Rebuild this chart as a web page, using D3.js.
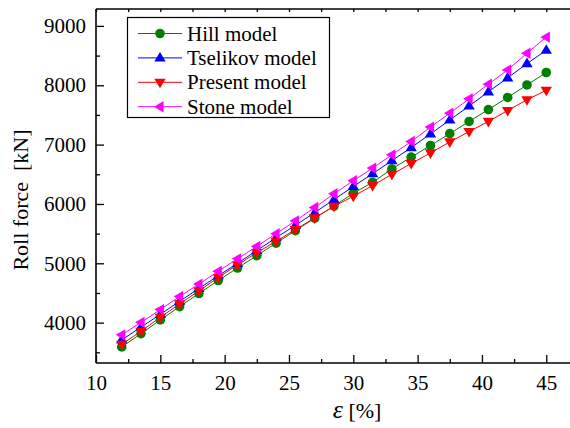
<!DOCTYPE html>
<html>
<head>
<meta charset="utf-8">
<script src="https://cdn.jsdelivr.net/npm/d3@7"></script>
<style>
  html, body { margin: 0; padding: 0; background: #fff; }
  svg { display: block; }
</style>
</head>
<body>
<svg id="chart" width="570" height="428"></svg>
<script>
// Reduction in percent
const strain = [12, 13.5, 15, 16.5, 18, 19.5, 21, 22.5, 24, 25.5, 27, 28.5, 30, 31.5, 33, 34.5, 36, 37.5, 39, 40.5, 42, 43.5, 45];

// Roll force in kN for each model
const hill = [3590, 3815, 4045, 4270, 4490, 4710, 4920, 5130, 5340, 5550, 5760, 5965, 6180, 6365, 6590, 6790, 6985, 7185, 7390, 7590, 7795, 8005, 8215];
const tselikov = [3710, 3925, 4140, 4360, 4575, 4790, 5000, 5215, 5430, 5640, 5855, 6075, 6295, 6510, 6730, 6950, 7180, 7415, 7650, 7890, 8125, 8365, 8590];
const present = [3635, 3855, 4090, 4315, 4535, 4760, 4975, 5180, 5370, 5570, 5765, 5960, 6130, 6310, 6500, 6680, 6860, 7045, 7220, 7390, 7575, 7755, 7915];
const stone = [3795, 4005, 4220, 4440, 4650, 4865, 5075, 5285, 5500, 5715, 5940, 6172, 6391, 6604, 6828, 7052, 7295, 7530, 7771, 8018, 8259, 8540, 8810];

const seriesNames = ["Hill model", "Tselikov model", "Present model", "Stone model"];
const seriesColors = ["#008000", "#0000ff", "#ff0000", "#ff00ff"];
const seriesSymbols = ["circle", "triangleUp", "triangleDown", "triangleLeft"];

const xTicks = [10, 15, 20, 25, 30, 35, 40, 45];
const xMinorTicks = [12.5, 17.5, 22.5, 27.5, 32.5, 37.5, 42.5];
const yTicks = [4000, 5000, 6000, 7000, 8000, 9000];
const yMinorTicks = [3500, 4500, 5500, 6500, 7500, 8500];

const FONT = '"Liberation Serif"';

const series = [hill, tselikov, present, stone].map((vals, i) => ({
  name: seriesNames[i], color: seriesColors[i], symbol: seriesSymbols[i],
  points: strain.map((s, j) => [s, vals[j]])
}));

const svg = d3.select("#chart");
const pLeft = 96, pTop = 9, pRight = 572, pBottom = 363;

const x = d3.scaleLinear().domain([10, 47]).range([pLeft, pRight]);
const y = d3.scaleLinear().domain([3320, 9285]).range([pBottom, pTop]);

// Marker path generator, centred on the origin
function markerPath(sym, r) {
  const h = r * 1.15;
  switch (sym) {
    case "triangleUp":   return `M0,${-h}L${h * 0.95},${h * 0.6}L${-h * 0.95},${h * 0.6}Z`;
    case "triangleDown": return `M0,${h}L${h * 0.95},${-h * 0.6}L${-h * 0.95},${-h * 0.6}Z`;
    case "triangleLeft": return `M${-h},0L${h * 0.6},${-h * 0.95}L${h * 0.6},${h * 0.95}Z`;
    default: return null;
  }
}
function drawMarker(g, sym, color, cx, cy) {
  if (sym === "circle") {
    g.append("circle").attr("cx", cx).attr("cy", cy).attr("r", 4.8).attr("fill", color);
  } else {
    g.append("path").attr("d", markerPath(sym, 5.2))
      .attr("transform", `translate(${cx},${cy})`).attr("fill", color);
  }
}

// Series lines and markers
const line = d3.line().x(d => x(d[0])).y(d => y(d[1]));
const plot = svg.append("g");
series.forEach(s => {
  const g = plot.append("g");
  g.append("path").datum(s.points).attr("d", line)
    .attr("fill", "none").attr("stroke", s.color).attr("stroke-width", 1);
  s.points.forEach(p => drawMarker(g, s.symbol, s.color, x(p[0]), y(p[1])));
});

// Axes with inward ticks
const axisStyle = g => {
  g.select(".domain").remove();
  g.selectAll("line").attr("stroke", "#000").attr("stroke-width", 1.3);
  g.selectAll("text").style("font-family", FONT).attr("font-size", 21).attr("fill", "#000");
};

svg.append("g").attr("transform", `translate(0,${pBottom})`)
  .call(d3.axisBottom(x).tickValues(xTicks).tickSize(-8).tickPadding(12).tickFormat(d3.format("d")))
  .call(axisStyle);
svg.append("g").attr("transform", `translate(0,${pBottom})`)
  .call(d3.axisBottom(x).tickValues(xMinorTicks).tickSize(-4).tickFormat(""))
  .call(axisStyle);

svg.append("g").attr("transform", `translate(${pLeft},0)`)
  .call(d3.axisLeft(y).tickValues(yTicks).tickSize(-8).tickPadding(10).tickFormat(d3.format("d")))
  .call(axisStyle);
svg.append("g").attr("transform", `translate(${pLeft},0)`)
  .call(d3.axisLeft(y).tickValues(yMinorTicks).tickSize(-4).tickFormat(""))
  .call(axisStyle);

svg.append("g").attr("transform", `translate(0,${pTop})`)
  .call(d3.axisTop(x).tickValues(xTicks.concat(xMinorTicks)).tickSize(-3).tickFormat(""))
  .call(axisStyle);

// Frame lines
svg.append("line").attr("x1", pLeft).attr("x2", pRight).attr("y1", pBottom).attr("y2", pBottom)
  .attr("stroke", "#000").attr("stroke-width", 1.6);
svg.append("line").attr("x1", pLeft).attr("x2", pLeft).attr("y1", pTop).attr("y2", pBottom)
  .attr("stroke", "#000").attr("stroke-width", 1.6);
svg.append("line").attr("x1", pLeft).attr("x2", pRight).attr("y1", pTop).attr("y2", pTop)
  .attr("stroke", "#000").attr("stroke-width", 1.6);

// Axis titles
svg.append("text").attr("transform", "translate(20,200) rotate(-90)")
  .attr("text-anchor", "middle").attr("dominant-baseline", "central")
  .style("font-family", FONT).attr("font-size", 22).style("white-space", "pre")
  .text("Roll force  [kN]");

const xt = svg.append("text").attr("x", 357).attr("y", 418).attr("text-anchor", "middle")
  .style("font-family", FONT).attr("font-size", 22);
xt.append("tspan").style("font-style", "italic").attr("font-size", 26).text("ε");
xt.append("tspan").text(" [%]");

// Legend
const lg = svg.append("g");
lg.append("rect").attr("x", 127.5).attr("y", 17.5).attr("width", 202).attr("height", 100)
  .attr("fill", "#fff").attr("stroke", "#000").attr("stroke-width", 1.2);
series.forEach((s, i) => {
  const cy = 33.5 + i * 24.4;
  lg.append("line").attr("x1", 138).attr("x2", 182).attr("y1", cy).attr("y2", cy)
    .attr("stroke", s.color).attr("stroke-width", 1);
  drawMarker(lg, s.symbol, s.color, 160, cy);
  lg.append("text").attr("x", 187).attr("y", cy).attr("dominant-baseline", "central")
    .style("font-family", FONT).attr("font-size", 21).text(s.name);
});
</script>
</body>
</html>
